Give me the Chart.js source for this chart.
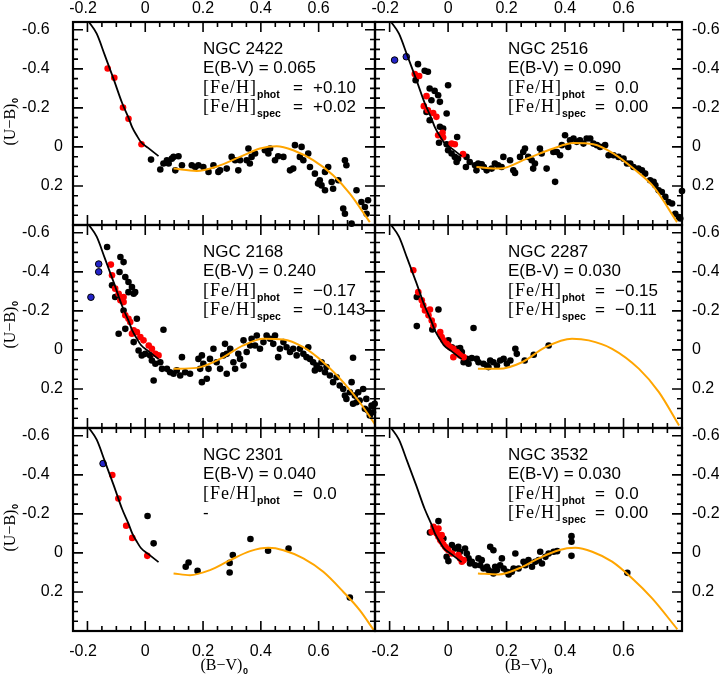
<!DOCTYPE html>
<html>
<head>
<meta charset="utf-8">
<script src="https://cdn.jsdelivr.net/npm/chart.js@4.4.0/dist/chart.umd.min.js"></script>
<style>
html, body { margin: 0; padding: 0; background: #fff; }
#wrap { position: relative; width: 719px; height: 683px; overflow: hidden; }
#wrap canvas { position: absolute; left: 0; top: 0; }
</style>
</head>
<body>
<div id="wrap">
<canvas id="p0" width="719" height="683"></canvas>
<canvas id="p1" width="719" height="683"></canvas>
<canvas id="p2" width="719" height="683"></canvas>
<canvas id="p3" width="719" height="683"></canvas>
<canvas id="p4" width="719" height="683"></canvas>
<canvas id="p5" width="719" height="683"></canvas>
</div>
<script>
// tick labels
const xTickLabels = [-0.2, 0, 0.2, 0.4, 0.6];
const yTickLabels = [-0.6, -0.4, -0.2, 0, 0.2];

// ZAMS (black line), same in every panel: [B-V, U-B]
const zams = [[-0.195,-0.64],[-0.168,-0.58],[-0.14,-0.47],[-0.11,-0.35],[-0.08,-0.225],[-0.058,-0.15],
  [-0.045,-0.10],[-0.03,-0.06],[-0.015,-0.025],[0.01,0.005],[0.046,0.047]];

// NGC 2422
const hyades2422 = [[0.098,0.111],[0.178,0.123],[0.248,0.10],[0.328,0.051],[0.397,0.008],[0.455,-0.004],
  [0.512,0.017],[0.581,0.068],[0.65,0.145],[0.708,0.239],[0.777,0.385]];
const red2422 = [[-0.130,-0.402],[-0.107,-0.354],[-0.077,-0.202],[-0.058,-0.144],[-0.013,-0.014]];
const blue2422 = [];
const black2422 = [[0.020,0.065],[0.052,0.116],[0.063,0.085],[0.075,0.068],[0.081,0.085],[0.092,0.06],[0.098,0.051],
  [0.104,0.12],[0.115,0.048],[0.127,0.094],[0.161,0.094],[0.173,0.103],[0.184,0.094],[0.201,0.103],[0.219,0.128],
  [0.236,0.094],[0.253,0.128],[0.259,0.12],[0.282,0.111],[0.299,0.051],[0.311,0.068],[0.322,0.12],[0.328,0.068],
  [0.351,0.068],[0.357,0.008],[0.362,0.085],[0.368,0.051],[0.380,0.034],[0.414,0.017],[0.426,0.034],[0.432,0.008],
  [0.449,0.068],[0.46,0.048],[0.478,0.051],[0.501,0.12],[0.512,0.111],[0.518,-0.009],[0.535,0.051],[0.541,0.0],
  [0.547,0.068],[0.564,0.034],[0.57,0.103],[0.587,0.137],[0.598,0.188],[0.604,0.171],[0.61,0.197],[0.622,0.128],
  [0.622,0.222],[0.633,0.103],[0.645,0.18],[0.65,0.214],[0.668,0.171],[0.691,0.068],[0.696,0.094],[0.685,0.316],
  [0.691,0.342],[0.714,0.393],[0.731,0.222],[0.748,0.282],[0.76,0.308],[0.766,0.342],[0.771,0.273]];

// NGC 2516
const hyades2516 = [[0.097,0.103],[0.177,0.111],[0.269,0.06],[0.36,0.008],[0.429,-0.02],[0.497,-0.014],
  [0.566,0.034],[0.634,0.111],[0.703,0.205],[0.783,0.385]];
const red2516 = [[-0.114,-0.373],[-0.099,-0.363],[-0.074,-0.26],[-0.083,-0.209],[-0.069,-0.188],[-0.051,-0.174],
  [-0.04,-0.154],[-0.034,-0.06],[-0.019,-0.072],[-0.017,-0.048],[0.012,-0.017],[0.023,-0.014],[0.051,0.037]];
const blue2516 = [[-0.183,-0.445],[-0.143,-0.462]];
const black2516 = [[-0.103,-0.424],[-0.080,-0.39],[-0.069,-0.385],[-0.111,-0.342],[0.0,-0.316],[-0.063,-0.299],
  [-0.046,-0.287],[-0.034,-0.265],[-0.057,-0.239],[-0.028,-0.231],[-0.074,-0.179],[-0.005,-0.171],[-0.063,-0.137],
  [-0.028,-0.103],[-0.017,-0.094],[-0.031,-0.021],[-0.005,-0.014],[0.0,0.017],[0.012,0.034],[0.023,0.051],
  [0.029,0.077],[0.034,0.06],[0.031,-0.051],[0.063,0.051],[0.061,0.103],[0.074,0.077],[0.092,0.094],[0.103,0.085],
  [0.097,0.12],[0.115,0.089],[0.122,0.103],[0.132,0.12],[0.149,0.111],[0.160,0.085],[0.171,0.094],[0.183,0.103],
  [0.189,0.051],[0.212,0.068],[0.223,0.12],[0.229,0.133],[0.246,0.051],[0.257,0.026],[0.263,0.008],[0.274,0.051],
  [0.286,0.068],[0.297,0.085],[0.291,0.111],[0.314,0.008],[0.320,0.034],[0.337,0.111],[0.366,0.179],[0.36,0.026],
  [0.372,0.026],[0.383,0.043],[0.389,-0.009],[0.4,-0.06],[0.411,0.0],[0.417,-0.034],[0.429,-0.043],[0.44,-0.026],
  [0.451,-0.034],[0.463,-0.017],[0.474,-0.043],[0.486,-0.043],[0.497,-0.017],[0.509,-0.009],[0.52,0.0],
  [0.537,-0.009],[0.549,0.043],[0.566,0.043],[0.583,0.051],[0.6,0.06],[0.612,0.085],[0.623,0.085],[0.634,0.103],
  [0.651,0.111],[0.663,0.12],[0.674,0.137],[0.691,0.171],[0.703,0.179],[0.709,0.196],[0.72,0.222],[0.731,0.231],
  [0.743,0.256],[0.754,0.282],[0.766,0.29],[0.777,0.342],[0.789,0.359],[0.794,0.367],[0.8,0.226]];

// NGC 2168
const hyades2168 = [[0.098,0.097],[0.178,0.092],[0.259,0.046],[0.339,-0.023],[0.409,-0.057],[0.478,-0.054],
  [0.547,-0.014],[0.616,0.063],[0.685,0.165],[0.742,0.268],[0.794,0.379]];
const red2168 = [[-0.119,-0.437],[-0.115,-0.382],[-0.104,-0.314],[-0.092,-0.288],[-0.081,-0.262],[-0.075,-0.245],
  [-0.086,-0.254],[-0.075,-0.271],[-0.069,-0.177],[-0.058,-0.16],[-0.052,-0.143],[-0.040,-0.1],[-0.046,-0.083],
  [-0.029,-0.091],[-0.017,-0.066],[-0.006,-0.049],[0.012,-0.023],[0.023,-0.006],[0.035,0.02],[0.046,0.028]];
const blue2168 = [[-0.161,-0.44],[-0.161,-0.40],[-0.188,-0.27]];
const black2168 = [[-0.132,-0.527],[-0.086,-0.476],[-0.075,-0.450],[-0.089,-0.399],[-0.069,-0.373],[-0.058,-0.348],
  [-0.046,-0.322],[-0.035,-0.296],[-0.040,-0.288],[-0.115,-0.331],[-0.058,-0.296],[-0.104,-0.271],[-0.075,-0.202],
  [-0.029,-0.16],[-0.092,-0.083],[-0.069,-0.108],[-0.040,-0.04],[-0.023,0.003],[-0.012,0.028],[0.0,0.02],
  [0.017,0.028],[0.023,0.054],[0.035,0.071],[0.052,0.063],[0.058,0.097],[0.063,-0.103],[0.029,0.157],[0.075,0.097],
  [0.086,0.114],[0.098,0.122],[0.109,0.105],[0.121,0.131],[0.127,0.037],[0.138,0.114],[0.155,0.122],[0.184,0.046],
  [0.19,0.097],[0.196,0.028],[0.196,0.165],[0.201,0.071],[0.213,0.148],[0.219,0.097],[0.224,0.046],[0.236,-0.006],
  [0.247,0.063],[0.259,0.097],[0.27,0.028],[0.276,-0.031],[0.282,0.02],[0.282,0.122],[0.294,-0.006],[0.305,0.063],
  [0.311,0.097],[0.322,0.02],[0.328,0.046],[0.34,-0.049],[0.34,0.080],[0.351,0.011],[0.363,-0.023],[0.368,-0.057],
  [0.38,-0.023],[0.386,-0.074],[0.397,-0.006],[0.409,-0.04],[0.42,-0.074],[0.432,-0.057],[0.443,-0.031],
  [0.449,-0.074],[0.46,0.037],[0.466,-0.006],[0.478,-0.04],[0.489,-0.014],[0.501,0.011],[0.512,-0.006],
  [0.524,0.028],[0.535,-0.006],[0.547,0.02],[0.558,0.037],[0.564,-0.014],[0.57,0.046],[0.581,0.063],[0.587,0.105],
  [0.593,0.080],[0.604,0.097],[0.61,0.063],[0.622,0.114],[0.627,0.088],[0.639,0.131],[0.65,0.165],[0.662,0.14],
  [0.673,0.182],[0.685,0.2],[0.691,0.234],[0.696,0.251],[0.708,0.217],[0.714,0.165],[0.719,0.276],[0.725,0.234],
  [0.731,0.268],[0.737,0.217],[0.742,0.259],[0.754,0.2],[0.76,0.302],[0.765,0.251],[0.771,0.31],[0.777,0.336],
  [0.783,0.285],[0.788,0.319],[0.794,0.276],[0.719,0.04],[0.81,0.30],[0.815,0.33]];

// NGC 2287
const hyades2287 = [[0.102,0.097],[0.173,0.097],[0.253,0.063],[0.333,-0.014],[0.424,-0.057],[0.481,-0.049],
  [0.561,-0.006],[0.653,0.097],[0.721,0.216],[0.79,0.387]];
const red2287 = [[-0.119,-0.408],[-0.102,-0.296],[-0.090,-0.254],[-0.085,-0.228],[-0.079,-0.202],[-0.062,-0.207],
  [-0.067,-0.177],[-0.056,-0.151],[-0.05,-0.125],[-0.027,-0.091],[-0.022,-0.066],[-0.016,-0.049],[-0.005,-0.031],
  [0.001,-0.023],[0.007,-0.014],[0.018,-0.006],[0.018,0.037],[0.03,0.011],[0.035,0.02],[0.041,0.028],[0.053,0.037]];
const blue2287 = [];
const black2287 = [[-0.107,-0.271],[-0.107,-0.122],[-0.054,-0.105],[-0.033,-0.207],[0.001,-0.049],[0.013,-0.014],
  [0.03,-0.006],[0.041,-0.009],[0.047,0.011],[0.053,0.063],[0.064,0.046],[0.07,0.071],[0.081,0.042],[0.087,-0.112],
  [0.098,0.046],[0.104,0.063],[0.121,0.071],[0.133,0.08],[0.138,0.088],[0.144,0.054],[0.155,0.063],[0.167,0.08],
  [0.178,0.054],[0.19,0.046],[0.201,0.071],[0.213,0.054],[0.23,-0.006],[0.235,0.02],[0.262,0.054],[0.293,0.025],
  [0.344,-0.023]];

// NGC 2301
const hyades2301 = [[0.098,0.105],[0.155,0.114],[0.224,0.088],[0.294,0.037],[0.363,-0.009],[0.426,-0.026],
  [0.478,-0.014],[0.547,0.028],[0.616,0.097],[0.685,0.199],[0.742,0.293],[0.791,0.396]];
const red2301 = [[-0.114,-0.399],[-0.093,-0.279],[-0.066,-0.139],[-0.045,-0.077],[0.007,0.015]];
const blue2301 = [[-0.146,-0.458]];
const black2301 = [[0.008,-0.189],[0.029,-0.049],[0.140,0.071],[0.15,0.049],[0.181,0.092],[0.292,0.051],
  [0.292,0.1],[0.303,0.011],[0.364,-0.071],[0.425,-0.011],[0.496,-0.023],[0.708,0.228]];

// NGC 3532
const hyades3532 = [[0.102,0.105],[0.173,0.11],[0.241,0.08],[0.31,0.028],[0.378,-0.014],[0.435,-0.026],
  [0.493,-0.006],[0.561,0.045],[0.63,0.131],[0.698,0.233],[0.784,0.391]];
const red3532 = [[-0.05,-0.134],[-0.045,-0.117],[-0.039,-0.1],[-0.033,-0.083],[-0.027,-0.066],[-0.022,-0.057],
  [-0.016,-0.043],[-0.01,-0.031],[-0.005,-0.023],[0.001,-0.014],[0.013,0.003],[0.035,0.011],[0.041,0.028],
  [0.047,0.045],[0.053,0.037],[-0.056,-0.108],[-0.033,-0.125],[-0.022,-0.091]];
const blue3532 = [];
const black3532 = [[-0.062,-0.105],[-0.033,-0.163],[-0.016,-0.074],[-0.005,0.02],[0.001,0.042],[0.013,-0.04],
  [0.024,-0.023],[0.035,-0.031],[0.041,-0.006],[0.058,-0.023],[0.064,0.003],[0.07,0.028],[0.075,0.054],
  [0.081,0.045],[0.093,0.063],[0.104,0.028],[0.11,0.063],[0.115,0.037],[0.121,0.08],[0.133,0.071],[0.138,0.088],
  [0.144,-0.031],[0.15,0.097],[0.155,-0.014],[0.155,0.105],[0.161,0.071],[0.167,0.088],[0.178,0.063],[0.184,0.028],
  [0.19,0.08],[0.201,0.097],[0.207,0.11],[0.218,0.097],[0.224,0.08],[0.23,0.003],[0.241,0.08],[0.258,0.045],
  [0.264,0.063],[0.275,0.037],[0.287,0.071],[0.298,0.045],[0.31,0.037],[0.315,-0.006],[0.321,0.054],[0.333,0.02],
  [0.344,0.003],[0.361,-0.006],[0.373,-0.009],[0.422,-0.086],[0.422,-0.057],[0.422,0.015],[0.613,0.102]];

// panel texts
const names = ["NGC 2422", "NGC 2516", "NGC 2168", "NGC 2287", "NGC 2301", "NGC 3532"];
const reddening = ["0.065", "0.090", "0.240", "0.030", "0.040", "0.030"];
const fehPhot = ["+0.10", "0.0", "\u22120.17", "\u22120.15", "0.0", "0.0"];
const fehSpec = ["+0.02", "0.00", "\u22120.143", "\u22120.11", null, "0.00"];

const panelData = [
  [black2422, red2422, blue2422, hyades2422],
  [black2516, red2516, blue2516, hyades2516],
  [black2168, red2168, blue2168, hyades2168],
  [black2287, red2287, blue2287, hyades2287],
  [black2301, red2301, blue2301, hyades2301],
  [black3532, red3532, blue3532, hyades3532]
];

// layout of the 3x2 grid
const W = 719, H = 683;
const colLeft = [73, 375], colRight = [375, 682];
const rowTop = [22, 225, 428], rowH = 203;
const xMax = [0.795, 0.8];
const SANS = '"Liberation Sans", Arial, sans-serif';
const SERIF = '"Liberation Serif", "Times New Roman", serif';

function pts(list){
    return list.map(p => ({x: p[0], y: p[1]}));
}

function fmt(v){
    return v === 0 ? "0" : v.toFixed(1);
}

function spaced(ctx, text, x, y, gap){
    for (const ch of text) {
        ctx.fillText(ch, x, y);
        x += ctx.measureText(ch).width + gap;
    }
    return x;
}

// frame plus inward major / minor ticks on all four sides
const frameTicks = {
    id: "frameTicks",
    afterDraw(chart){
        const {ctx, chartArea: a, scales: {x, y}} = chart;
        ctx.save();
        ctx.strokeStyle = "#000";
        ctx.lineWidth = 1.6;
        ctx.beginPath();
        for (let i = -4; i <= 16; i++) {
            const px = x.getPixelForValue(i * 0.05);
            if (px <= a.left + 1 || px >= a.right - 1) continue;
            const len = i % 4 === 0 ? 10 : 5;
            ctx.moveTo(px, a.bottom); ctx.lineTo(px, a.bottom - len);
            ctx.moveTo(px, a.top); ctx.lineTo(px, a.top + len);
        }
        for (let j = -12; j <= 8; j++) {
            const py = y.getPixelForValue(j * 0.05);
            if (py <= a.top + 1 || py >= a.bottom - 1) continue;
            const len = j % 4 === 0 ? 10 : 5;
            ctx.moveTo(a.left, py); ctx.lineTo(a.left + len, py);
            ctx.moveTo(a.right, py); ctx.lineTo(a.right - len, py);
        }
        ctx.stroke();
        ctx.lineWidth = 2.2;
        ctx.strokeRect(a.left, a.top, a.right - a.left, a.bottom - a.top);
        ctx.restore();
    }
};

function fehLine(ctx, x0, left, base, sub, val){
    ctx.font = "18px " + SERIF;
    const x = spaced(ctx, "[Fe/H]", x0, base, 1);
    ctx.font = "bold 10.5px " + SANS;
    ctx.fillText(sub, x, base + 5);
    ctx.font = "17px " + SANS;
    ctx.fillText("=", left + 220, base);
    ctx.fillText(val, left + 240, base);
}

// cluster labels and axis titles
const notes = {
    id: "notes",
    afterDraw(chart, args, o){
        const {ctx, chartArea: a} = chart;
        const x0 = a.left + o.dx;
        ctx.save();
        ctx.fillStyle = "#000";
        ctx.textAlign = "left";
        ctx.textBaseline = "alphabetic";
        ctx.font = "17px " + SANS;
        ctx.fillText(o.name, x0, a.top + 32);
        ctx.fillText("E(B-V) = " + o.ebv, x0, a.top + 51.3);
        fehLine(ctx, x0, a.left, a.top + 71, "phot", o.phot);
        if (o.spec) {
            fehLine(ctx, x0, a.left, a.top + 90.3, "spec", o.spec);
        } else {
            ctx.font = "17px " + SANS;
            ctx.fillText("-", x0, a.top + 90.3);
        }
        if (o.yTitle) {
            ctx.save();
            ctx.translate(15, (a.top + a.bottom) / 2 - 1.5);
            ctx.rotate(-Math.PI / 2);
            ctx.font = "16px " + SERIF;
            const w1 = ctx.measureText("(U\u2212B)").width;
            ctx.font = "bold 9px " + SANS;
            const w2 = ctx.measureText("0").width;
            const s = -(w1 + w2) / 2;
            ctx.font = "16px " + SERIF;
            ctx.fillText("(U\u2212B)", s, 0);
            ctx.font = "bold 9px " + SANS;
            ctx.fillText("0", s + w1 + 0.5, 3);
            ctx.restore();
        }
        if (o.xTitle) {
            ctx.font = "16px " + SERIF;
            const w1 = ctx.measureText("(B\u2212V)").width;
            ctx.font = "bold 9px " + SANS;
            const w2 = ctx.measureText("0").width;
            const s = (a.left + a.right) / 2 - (w1 + w2) / 2;
            ctx.font = "16px " + SERIF;
            ctx.fillText("(B\u2212V)", s, 670);
            ctx.font = "bold 9px " + SANS;
            ctx.fillText("0", s + w1 + 0.5, 674);
        }
        ctx.restore();
    }
};

function createPanel(k){
    const col = k % 2, row = Math.floor(k / 2);
    const [black, red, blue, hyades] = panelData[k];
    const left = colLeft[col], right = colRight[col];
    const top = rowTop[row], bottom = rowTop[row] + rowH;
    // label boxes: the scale clips its labels to its own box
    const yBox = col === 0 ? left : W - right;
    const xBox = row === 0 ? top : (row === 2 ? 32 : 0);
    const pad = {
        left: col === 0 ? 0 : left,
        right: col === 0 ? W - right : 0,
        top: row === 0 ? 0 : top,
        bottom: row === 2 ? H - bottom - xBox : H - bottom
    };
    const dot = (data, color, order, extra) => Object.assign({
        data: pts(data), backgroundColor: color, borderWidth: 0,
        pointRadius: 3.3, clip: false, order: order
    }, extra || {});
    const curve = (data, color, width) => ({
        data: pts(data), showLine: true, borderColor: color, borderWidth: width,
        pointRadius: 0, cubicInterpolationMode: "monotone", order: 0
    });
    return new Chart(document.getElementById("p" + k), {
        type: "scatter",
        data: {
            datasets: [
                curve(zams, "#000", 1.8),
                curve(hyades, "#ffa500", 2),
                dot(blue, "#2323c8", 1, {borderColor: "#000", borderWidth: 1}),
                dot(red, "#ff0000", 2),
                dot(black, "#000", 3)
            ]
        },
        options: {
            responsive: false,
            animation: false,
            devicePixelRatio: 1,
            layout: {padding: pad},
            plugins: {
                legend: {display: false},
                tooltip: {enabled: false},
                notes: {
                    dx: col === 0 ? 130 : 133,
                    name: names[k], ebv: reddening[k], phot: fehPhot[k], spec: fehSpec[k],
                    yTitle: col === 0, xTitle: row === 2
                }
            },
            scales: {
                x: {
                    type: "linear",
                    position: row === 2 ? "bottom" : "top",
                    min: -0.25, max: xMax[col],
                    grid: {display: false, drawTicks: false},
                    border: {display: false},
                    ticks: {
                        display: row !== 1, autoSkip: false, maxRotation: 0,
                        padding: row === 0 ? 4 : 11, color: "#000",
                        font: {family: SANS, size: 16},
                        callback: v => v < 0 ? fmt(v) + "  " : fmt(v)
                    },
                    afterBuildTicks: s => { s.ticks = xTickLabels.map(v => ({value: v})); },
                    afterFit: s => { s.height = xBox; }
                },
                y: {
                    type: "linear",
                    position: col === 0 ? "left" : "right",
                    reverse: true,
                    min: -0.64, max: 0.4,
                    grid: {display: false, drawTicks: false},
                    border: {display: false},
                    ticks: {
                        autoSkip: false, padding: 10, color: "#000",
                        font: {family: SANS, size: 16},
                        callback: v => (col === 0 && v < 0) ? fmt(v) + "   " : fmt(v)
                    },
                    afterBuildTicks: s => { s.ticks = yTickLabels.map(v => ({value: v})); },
                    afterFit: s => { s.width = yBox; }
                }
            }
        },
        plugins: [frameTicks, notes]
    });
}

let charts = [];
for (let k = 0; k < 6; ++k) {
    charts.push(createPanel(k));
}
</script>
</body>
</html>
